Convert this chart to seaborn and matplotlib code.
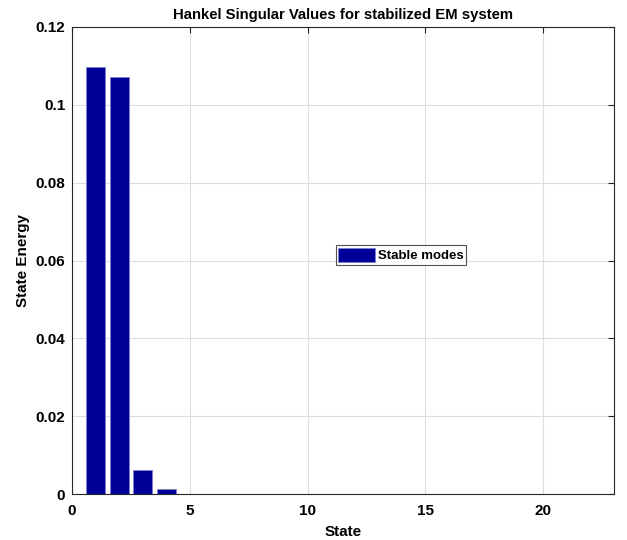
import matplotlib
matplotlib.use("Agg")
import matplotlib.pyplot as plt
import seaborn as sns
import numpy as np
import pandas as pd

states = list(range(1, 23))
energy = [0.1098, 0.1071, 0.0063, 0.0012] + [0.0001] * 18

sns.set_style("white")
plt.rcParams['font.family'] = ['Liberation Sans', 'DejaVu Sans']
plt.rcParams['text.color'] = 'black'

fig = plt.figure(figsize=(6.27, 5.4), dpi=100)
ax = fig.add_axes([0.115, 0.085, 0.864, 0.865])

df = pd.DataFrame({"State": states, "Energy": energy})
sns.barplot(data=df, x="State", y="Energy", native_scale=True, width=0.8,
            color="#000099", saturation=1, edgecolor="#8080d0", linewidth=0.6,
            ax=ax, label="Stable modes")
for p in ax.patches:
    p.set_facecolor("#000099")

ax.set_xlim(0, 23)
ax.set_ylim(0, 0.12)
ax.set_xticks([0, 5, 10, 15, 20])
ax.set_yticks([0, 0.02, 0.04, 0.06, 0.08, 0.1, 0.12])
ax.set_yticklabels(["0", "0.02", "0.04", "0.06", "0.08", "0.1", "0.12"])
ax.grid(True, color="#dddddd", linewidth=0.8)
ax.set_axisbelow(True)
ax.tick_params(direction="in", top=True, right=True, labelsize=11, length=4,
               colors="#262626", labelcolor="black")
ax.tick_params(axis="x", pad=7)
ax.tick_params(axis="y", pad=5)
for lbl in ax.get_xticklabels() + ax.get_yticklabels():
    lbl.set_fontweight("bold")
for s in ax.spines.values():
    s.set_color("#262626")
    s.set_linewidth(0.8)

ax.set_xlabel("State", fontweight="bold", fontsize=11, color="black", labelpad=5)
ax.set_ylabel("State Energy", fontweight="bold", fontsize=11, color="black")
ax.set_title("Hankel Singular Values for stabilized EM system", fontweight="bold",
             fontsize=10.7, color="black", pad=6)

leg = ax.legend(loc="center", bbox_to_anchor=(0.607, 0.512), frameon=True, fancybox=False,
                edgecolor="#262626", prop={"weight": "bold", "size": 9.5},
                handlelength=2.8, handleheight=1.3, borderpad=0.2, handletextpad=0.2)
leg.get_frame().set_linewidth(0.8)
for t in leg.get_texts():
    t.set_color("black")

fig.savefig("out.png", dpi=100)
